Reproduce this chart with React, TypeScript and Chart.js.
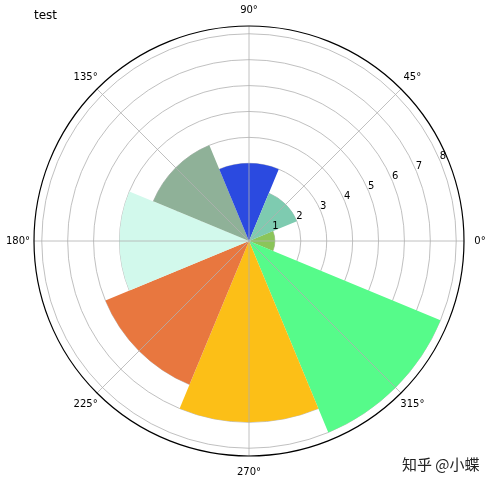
import React, { useEffect, useRef } from 'react';
import Chart from 'chart.js/auto';

// === Data (matplotlib polar bar) ===
const THETA_DEG = [0, 45, 90, 135, 180, 225, 270, 315];
const RADII = [1, 2, 3, 4, 5, 6, 7, 8];
const BAR_COLORS = [
  '#8bc55a', '#7ecbb0', '#2b4ae0', '#8fb198',
  '#d2f9ec', '#e8773f', '#fcbf17', '#56fb8a',
];
const THETA_TICKS = [0, 45, 90, 135, 180, 225, 270, 315];
const R_TICKS = [1, 2, 3, 4, 5, 6, 7, 8];
const R_MAX = 8.3;
const R_LABEL_DEG = 22.5;

const GRID_COLOR = '#b0b0b0';
const FONT = '"DejaVu Sans", sans-serif';

// Chart.js walks clockwise from the start angle, matplotlib counter-clockwise
const ORDER = THETA_DEG.map((_, i) => (THETA_DEG.length - i) % THETA_DEG.length);

const rad = (d: number) => (d * Math.PI) / 180;

// spokes, outer ring and the tick labels, drawn where matplotlib puts them
const polarDecor = {
  id: 'polarDecor',
  afterDraw(chart: any) {
    const scale = chart.scales.r;
    const ctx = chart.ctx as CanvasRenderingContext2D;
    const cx = scale.xCenter;
    const cy = scale.yCenter;
    const R = scale.drawingArea;
    ctx.save();

    ctx.strokeStyle = GRID_COLOR;
    ctx.lineWidth = 0.8;
    THETA_TICKS.forEach(deg => {
      const a = rad(deg);
      ctx.beginPath();
      ctx.moveTo(cx, cy);
      ctx.lineTo(cx + R * Math.cos(a), cy - R * Math.sin(a));
      ctx.stroke();
    });

    ctx.strokeStyle = '#000';
    ctx.lineWidth = 1.2;
    ctx.beginPath();
    ctx.arc(cx, cy, R, 0, Math.PI * 2);
    ctx.stroke();

    ctx.fillStyle = '#000';
    ctx.font = `10px ${FONT}`;
    ctx.textAlign = 'center';
    ctx.textBaseline = 'middle';
    THETA_TICKS.forEach(deg => {
      const a = rad(deg);
      const d = R + 16;
      ctx.fillText(`${deg}°`, cx + d * Math.cos(a), cy - d * Math.sin(a));
    });

    const la = rad(R_LABEL_DEG);
    R_TICKS.forEach(v => {
      const d = scale.getDistanceFromCenterForValue(v);
      ctx.fillText(String(v), cx + d * Math.cos(la) + 2.5, cy - d * Math.sin(la) - 5);
    });

    ctx.restore();
  },
};

const App: React.FC = () => {
  const canvasRef = useRef<HTMLCanvasElement>(null);

  useEffect(() => {
    if (!canvasRef.current) return;
    const chart = new Chart(canvasRef.current, {
      type: 'polarArea',
      data: {
        labels: ORDER.map(i => `${THETA_DEG[i]}°`),
        datasets: [{
          data: ORDER.map(i => RADII[i]),
          backgroundColor: ORDER.map(i => BAR_COLORS[i]),
          borderWidth: 0,
        }],
      },
      options: {
        animation: false,
        responsive: true,
        maintainAspectRatio: false,
        layout: { padding: { left: 34, top: 26, right: 28, bottom: 28 } },
        plugins: {
          legend: { display: false },
          tooltip: { enabled: false },
        },
        scales: {
          r: {
            type: 'radialLinear',
            z: 1,
            min: 0,
            max: R_MAX,
            startAngle: 90 - R_LABEL_DEG,
            angleLines: { display: false },
            pointLabels: { display: false },
            grid: { circular: true, color: GRID_COLOR, lineWidth: 0.8 },
            ticks: { display: false, stepSize: 1, includeBounds: false },
          },
        },
      },
      plugins: [polarDecor],
    });
    return () => chart.destroy();
  }, []);

  return (
    <div style={{ position: 'fixed', left: 0, top: 0, width: 492, height: 484, background: '#fff' }}>
      <canvas ref={canvasRef} />
      <div
        style={{
          position: 'absolute', left: 34, top: 8, fontFamily: FONT,
          fontSize: 12, lineHeight: '14px', color: '#000',
        }}
      >
        test
      </div>
      <div
        style={{
          position: 'absolute', left: 402, top: 455, fontFamily: '"Noto Sans CJK SC", sans-serif',
          fontSize: 15, lineHeight: '18px', color: '#222', textShadow: '0 0 2px #fff',
          whiteSpace: 'nowrap',
        }}
      >
        知乎 @小蝶
      </div>
    </div>
  );
};

export default App;
